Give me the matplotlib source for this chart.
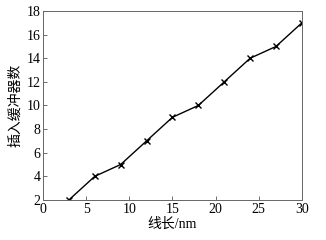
import matplotlib.pyplot as plt

plt.rcParams['font.family'] = ['Liberation Serif', 'Noto Sans CJK SC']

# wire length (nm) vs number of inserted buffers
length = [3, 6, 9, 12, 15, 18, 21, 24, 27, 30]
buffers = [2, 4, 5, 7, 9, 10, 12, 14, 15, 17]

fig = plt.figure(figsize=(3.26, 2.4), dpi=100)
ax = fig.add_axes([0.132, 0.167, 0.794, 0.787])

ax.plot(length, buffers, color='black', linewidth=1.0, marker='x',
        markersize=4, markeredgewidth=1.0)

ax.set_xlim(0, 30)
ax.set_ylim(2, 18)
ax.set_xticks(range(0, 31, 5))
ax.set_yticks(range(2, 19, 2))
ax.tick_params(direction='in', length=3, width=0.6, color='#555555',
               labelsize=10, pad=2)
for s in ax.spines.values():
    s.set_color('#666666')
    s.set_linewidth(0.7)

ax.set_xlabel('线长/nm', fontsize=10, labelpad=1,
              family=['Liberation Serif', 'Noto Sans CJK SC'])
ax.set_ylabel('插入缓冲器数', fontsize=10, labelpad=3,
              family=['Noto Sans CJK SC'])

plt.savefig('out.png', dpi=100)
